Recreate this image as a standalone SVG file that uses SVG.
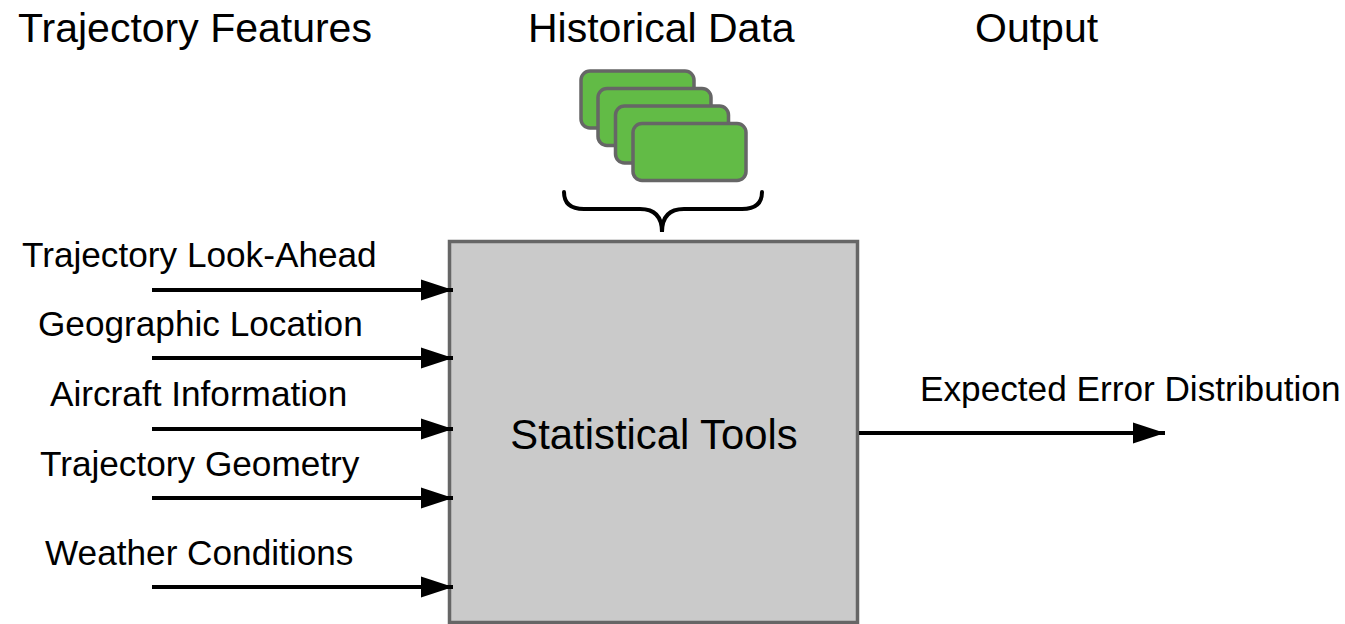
<svg xmlns="http://www.w3.org/2000/svg" width="1345" height="624" viewBox="0 0 1345 624">
  <style>
    .title { font-family: "Liberation Sans", Arial, sans-serif; font-size: 41px; fill: #000; }
    .label { font-family: "Liberation Sans", Arial, sans-serif; font-size: 35.2px; fill: #000; }
    .center { font-family: "Liberation Sans", Arial, sans-serif; font-size: 41.8px; fill: #000; }
    .card { fill: #62bb46; stroke: #666; stroke-width: 3.5; }
    .wire { stroke: #000; stroke-width: 4; fill: none; }
  </style>
  <defs>
    <marker id="head" markerUnits="userSpaceOnUse" markerWidth="34" markerHeight="24" refX="32" refY="12" orient="auto">
      <polygon points="0,1.5 32,12 0,22.5" fill="#000"/>
    </marker>
  </defs>
  <rect width="1345" height="624" fill="#fff"/>

  <!-- column headings -->
  <g id="headings">
    <text class="title" x="18" y="42">Trajectory Features</text>
    <text class="title" x="528" y="42">Historical Data</text>
    <text class="title" x="975" y="42">Output</text>
  </g>

  <!-- stacked historical data records -->
  <g id="historical-data">
    <rect class="card" x="581" y="71" width="113" height="57" rx="9"/>
    <rect class="card" x="598" y="88.5" width="113" height="57" rx="9"/>
    <rect class="card" x="615.5" y="106" width="113" height="57" rx="9"/>
    <rect class="card" x="633" y="123.5" width="113" height="57" rx="9"/>
    <path d="M 564 192 Q 564 209 584 209 L 640 209 Q 662 209 662 232 Q 662 209 684 209 L 742 209 Q 762 209 762 192" fill="none" stroke="#000" stroke-width="4" stroke-linecap="round"/>
  </g>

  <!-- central processing block -->
  <g id="statistical-tools">
    <rect x="449.5" y="241.5" width="408" height="381" fill="#cacaca" stroke="#666" stroke-width="3.5"/>
    <text class="center" x="654" y="449" text-anchor="middle">Statistical Tools</text>
  </g>

  <!-- input feature labels -->
  <g id="input-labels">
    <text class="label" x="22" y="267">Trajectory Look-Ahead</text>
    <text class="label" x="38" y="336">Geographic Location</text>
    <text class="label" x="50" y="406">Aircraft Information</text>
    <text class="label" x="40" y="476">Trajectory Geometry</text>
    <text class="label" x="45" y="565">Weather Conditions</text>
  </g>

  <g id="output-label">
    <text class="label" x="920" y="401">Expected Error Distribution</text>
  </g>

  <!-- connectors -->
  <g id="connectors">
    <line class="wire" x1="152" y1="290" x2="453" y2="290" marker-end="url(#head)"/>
    <line class="wire" x1="152" y1="358" x2="453" y2="358" marker-end="url(#head)"/>
    <line class="wire" x1="152" y1="429" x2="453" y2="429" marker-end="url(#head)"/>
    <line class="wire" x1="152" y1="498" x2="453" y2="498" marker-end="url(#head)"/>
    <line class="wire" x1="152" y1="587" x2="453" y2="587" marker-end="url(#head)"/>
    <line class="wire" x1="859" y1="433" x2="1165" y2="433" marker-end="url(#head)"/>
  </g>
</svg>
